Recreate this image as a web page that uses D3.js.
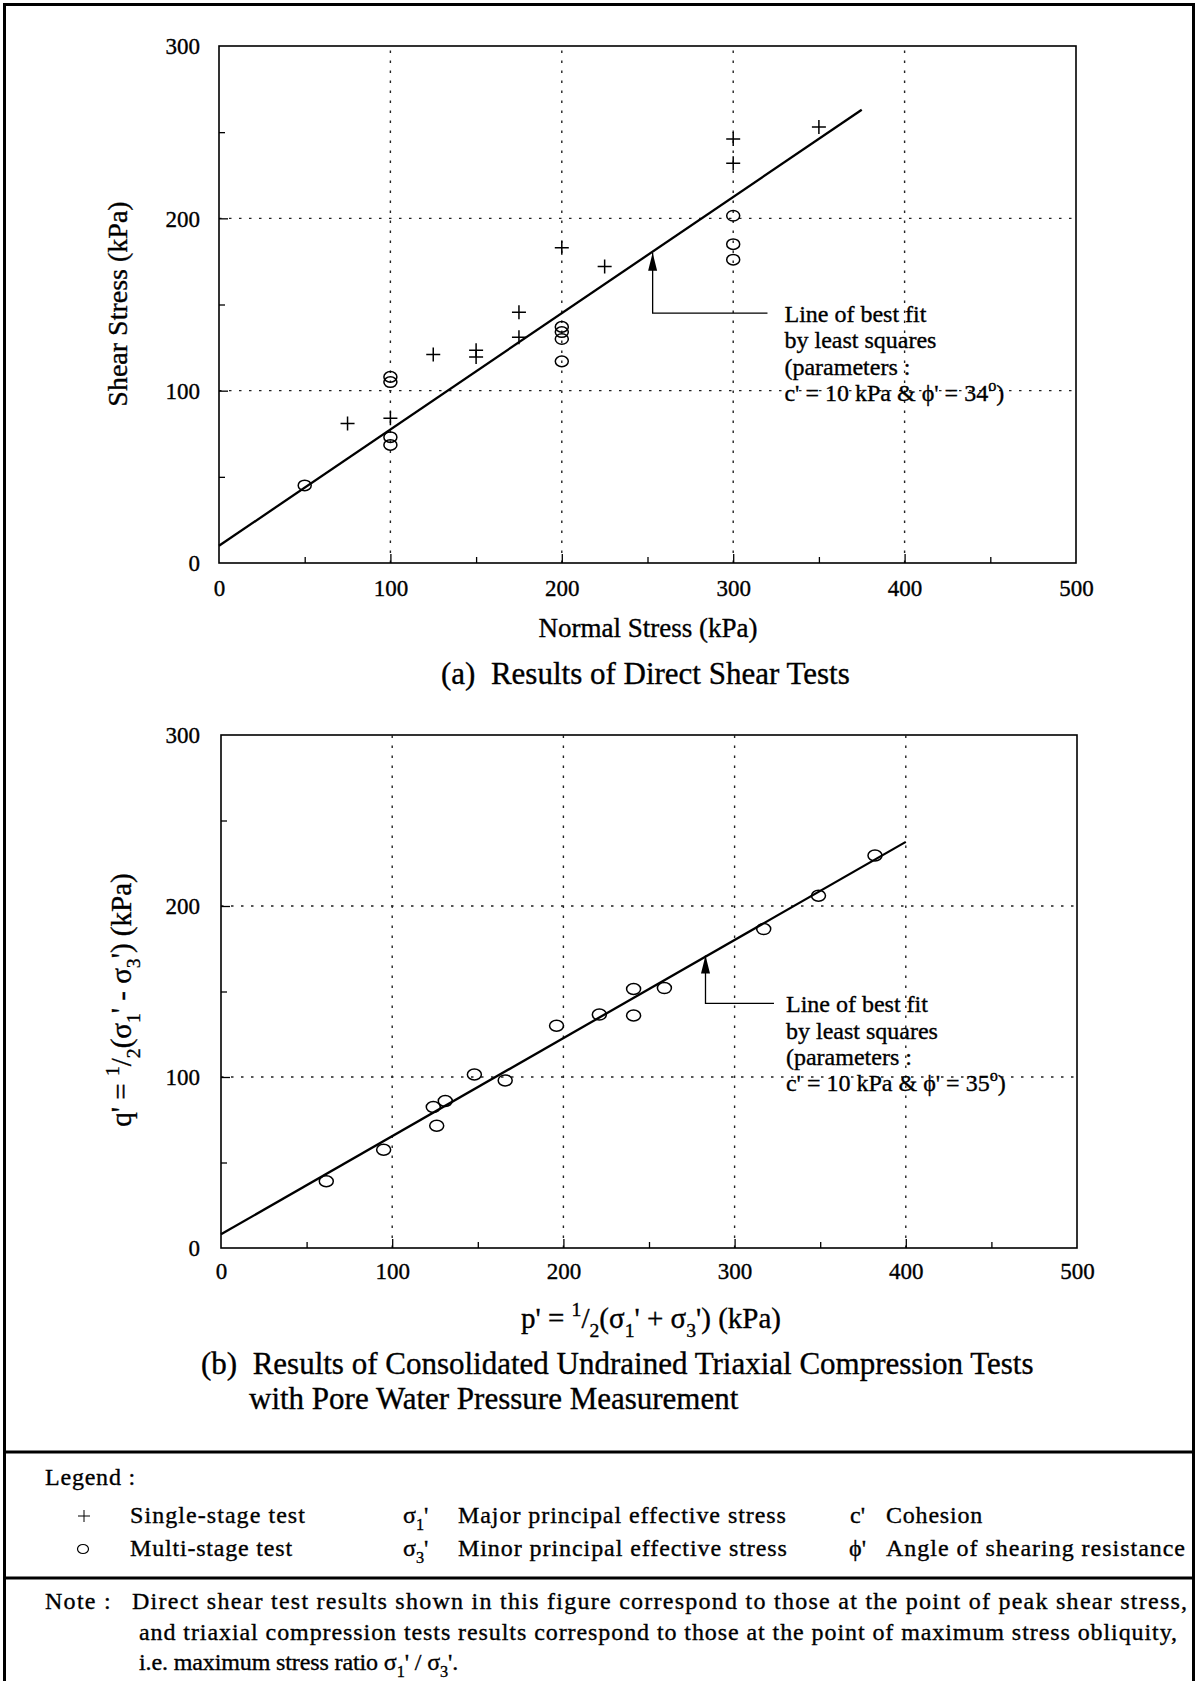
<!DOCTYPE html>
<html><head><meta charset="utf-8">
<script src="https://cdn.jsdelivr.net/npm/d3@7"></script>
<style>body{margin:0;background:#fff}svg{display:block}text{stroke:#000;stroke-width:0.35px}</style>
</head><body><svg id="c" width="1198" height="1681"></svg>
<script>
// ---------- data ----------
const xTicks = [0, 100, 200, 300, 400, 500];
const yTicks = [0, 100, 200, 300];
const minorTicks = [50, 150, 250, 350, 450];
const gridX = [100, 200, 300, 400];
const gridY = [100, 200];

// (a) direct shear tests
const shearSingleX = [75, 100, 125, 150, 150, 175, 175, 200, 225, 300, 300, 350];
const shearSingleY = [81, 84, 121, 123.5, 119.5, 145.5, 131, 183, 172, 246, 232, 253];
const shearMultiX = [50, 100, 100, 100, 100, 200, 200, 200, 200, 300, 300, 300];
const shearMultiY = [45, 108, 105, 73, 68.5, 137, 134, 130, 117, 201.5, 185, 176];
const fitAX = [0, 375];
const fitAY = [10, 263];
const arrowAX = [253, 253, 320];
const arrowAY = [180, 145, 145];
const noteA = ["Line of best fit", "by least squares", "(parameters :", "c' = 10 kPa & \u03d5' = 34"];

// (b) triaxial tests
const triaxP = [61.5, 95, 124, 126, 131, 148, 166, 196, 221, 241, 241, 259, 317, 349, 382];
const triaxQ = [39, 57.5, 82.5, 71.5, 86, 101.5, 98, 130, 136.5, 151.5, 136, 152, 186.5, 206, 229.5];
const fitBX = [0, 400];
const fitBY = [8, 237.5];
const arrowBX = [283, 283, 323];
const arrowBY = [171, 143, 143];
const noteB = ["Line of best fit", "by least squares", "(parameters :", "c' = 10 kPa & \u03d5' = 35"];

// ---------- setup ----------
const FONT = "'Liberation Serif','Times New Roman',Times,serif";
const svg = d3.select("#c").attr("font-family", FONT);

// outer frame
svg.append("path").attr("d", "M4.5,1690 V4.5 H1193.5 V1690").attr("fill", "none").attr("stroke", "#000").attr("stroke-width", 3);
svg.append("line").attr("x1", 3).attr("x2", 1195).attr("y1", 1452).attr("y2", 1452).attr("stroke", "#000").attr("stroke-width", 3);
svg.append("line").attr("x1", 3).attr("x2", 1195).attr("y1", 1578).attr("y2", 1578).attr("stroke", "#000").attr("stroke-width", 3);

function rich(textSel, parts, size) {
  let off = 0;
  parts.forEach(([s, m]) => {
    const target = m === "sub" ? size * 0.3 : m === "sup" ? -size * 0.42 : 0;
    const t = textSel.append("tspan").text(s).attr("dy", target - off);
    if (m) t.attr("font-size", size * 0.68);
    off = target;
  });
  return textSel;
}
function fitW(sel, w) {
  const n = sel.text().length;
  const cur = sel.node().getComputedTextLength();
  sel.attr("letter-spacing", ((w - cur) / n).toFixed(2));
}

function panel(cfg) {
  const x = d3.scaleLinear().domain([0, 500]).range([cfg.left, cfg.right]);
  const y = d3.scaleLinear().domain([0, 300]).range([cfg.bottom, cfg.top]);
  const g = svg.append("g");

  // grid
  g.selectAll(".gx").data(gridX).join("line")
    .attr("x1", d => x(d)).attr("x2", d => x(d)).attr("y1", cfg.bottom).attr("y2", cfg.top)
    .attr("stroke", "#222").attr("stroke-width", 1.4).attr("stroke-dasharray", "2.5,7.5");
  g.selectAll(".gy").data(gridY).join("line")
    .attr("y1", d => y(d)).attr("y2", d => y(d)).attr("x1", cfg.left).attr("x2", cfg.right)
    .attr("stroke", "#222").attr("stroke-width", 1.4).attr("stroke-dasharray", "2.5,7.5");

  // inward ticks
  const tickStyle = s => s.call(a => a.select(".domain").remove()).selectAll("line").attr("stroke", "#000").attr("stroke-width", 1.3);
  g.append("g").attr("transform", `translate(0,${cfg.bottom})`)
    .call(d3.axisBottom(x).tickValues(gridX).tickSize(-9).tickFormat("")).call(tickStyle);
  g.append("g").attr("transform", `translate(0,${cfg.bottom})`)
    .call(d3.axisBottom(x).tickValues(minorTicks).tickSize(-6).tickFormat("")).call(tickStyle);
  g.append("g").attr("transform", `translate(${cfg.left},0)`)
    .call(d3.axisLeft(y).tickValues(gridY).tickSize(-9).tickFormat("")).call(tickStyle);
  g.append("g").attr("transform", `translate(${cfg.left},0)`)
    .call(d3.axisLeft(y).tickValues(minorTicks.filter(v => v < 300)).tickSize(-6).tickFormat("")).call(tickStyle);

  // tick labels
  const xa = g.append("g").attr("transform", `translate(0,${cfg.bottom})`)
    .call(d3.axisBottom(x).tickValues(xTicks).tickSize(0).tickPadding(cfg.xPad).tickFormat(d3.format("d")));
  xa.select(".domain").remove();
  xa.attr("font-family", FONT).attr("font-size", 23).selectAll("text").attr("fill", "#000");
  const ya = g.append("g").attr("transform", `translate(${cfg.left},0)`)
    .call(d3.axisLeft(y).tickValues(yTicks).tickSize(0).tickPadding(cfg.left - 200).tickFormat(d3.format("d")));
  ya.select(".domain").remove();
  ya.attr("font-family", FONT).attr("font-size", 23).selectAll("text").attr("fill", "#000").attr("dy", "0.34em");

  // frame
  g.append("rect").attr("x", cfg.left).attr("y", cfg.top)
    .attr("width", cfg.right - cfg.left).attr("height", cfg.bottom - cfg.top)
    .attr("fill", "none").attr("stroke", "#000").attr("stroke-width", 1.6);

  // fit line
  g.append("path").datum(d3.zip(cfg.fitX, cfg.fitY))
    .attr("d", d3.line().x(d => x(d[0])).y(d => y(d[1])))
    .attr("fill", "none").attr("stroke", "#000").attr("stroke-width", 2.3);

  // arrow
  g.append("path").datum(d3.zip(cfg.arrX, cfg.arrY).reverse())
    .attr("d", d3.line().x(d => x(d[0])).y(d => y(d[1])))
    .attr("fill", "none").attr("stroke", "#000").attr("stroke-width", 1.3);
  const ax = x(cfg.arrX[0]), ay = y(cfg.arrY[0]);
  g.append("path").attr("d", `M${ax},${ay} L${ax - 4.5},${ay + 18} L${ax + 4.5},${ay + 18} Z`).attr("fill", "#000");

  // annotation text
  const tx = x(cfg.arrX[2]) + cfg.textGap;
  const ty0 = y(cfg.arrY[1]) + 9;
  cfg.note.forEach((s, i) => {
    const t = g.append("text").attr("x", tx).attr("y", ty0 + i * 26.3).attr("font-size", 24).attr("fill", "#000");
    if (i === 3) rich(t, [[s, ""], ["o", "sup"], [")", ""]], 24);
    else t.text(s);
  });

  return { g, x, y };
}

// ---------- panel (a) ----------
const A = panel({ left: 219, right: 1076, top: 46, bottom: 563, xPad: 17, textGap: 17,
  fitX: fitAX, fitY: fitAY, arrX: arrowAX, arrY: arrowAY, note: noteA });

const plusPath = "M-7,0H7M0,-7V7";
A.g.selectAll(".plus").data(d3.zip(shearSingleX, shearSingleY)).join("path")
  .attr("transform", d => `translate(${A.x(d[0])},${A.y(d[1])})`)
  .attr("d", plusPath).attr("stroke", "#000").attr("stroke-width", 1.5).attr("fill", "none");
A.g.selectAll(".circ").data(d3.zip(shearMultiX, shearMultiY)).join("ellipse")
  .attr("cx", d => A.x(d[0])).attr("cy", d => A.y(d[1])).attr("rx", 6.5).attr("ry", 5.3)
  .attr("stroke", "#000").attr("stroke-width", 1.5).attr("fill", "none");

svg.append("text").attr("transform", "translate(127,304) rotate(-90)").attr("text-anchor", "middle")
  .attr("font-size", 28).text("Shear Stress (kPa)");
svg.append("text").attr("x", 648).attr("y", 637).attr("text-anchor", "middle")
  .attr("font-size", 27).text("Normal Stress (kPa)");
svg.append("text").attr("x", 441).attr("y", 684).attr("font-size", 31).attr("xml:space", "preserve")
  .text("(a)  Results of Direct Shear Tests");

// ---------- panel (b) ----------
const B = panel({ left: 221, right: 1077, top: 735, bottom: 1248, xPad: 15, textGap: 12,
  fitX: fitBX, fitY: fitBY, arrX: arrowBX, arrY: arrowBY, note: noteB });
B.g.selectAll(".circ").data(d3.zip(triaxP, triaxQ)).join("ellipse")
  .attr("cx", d => B.x(d[0])).attr("cy", d => B.y(d[1])).attr("rx", 7).attr("ry", 5.5)
  .attr("stroke", "#000").attr("stroke-width", 1.5).attr("fill", "none");

rich(svg.append("text").attr("transform", "translate(131,1000) rotate(-90)").attr("text-anchor", "middle").attr("font-size", 29),
  [["q' = ", ""], ["1", "sup"], ["/", ""], ["2", "sub"], ["(\u03c3", ""], ["1", "sub"], ["' - \u03c3", ""], ["3", "sub"], ["') (kPa)", ""]], 29);
rich(svg.append("text").attr("x", 651).attr("y", 1328).attr("text-anchor", "middle").attr("font-size", 29),
  [["p' = ", ""], ["1", "sup"], ["/", ""], ["2", "sub"], ["(\u03c3", ""], ["1", "sub"], ["' + \u03c3", ""], ["3", "sub"], ["') (kPa)", ""]], 29);
svg.append("text").attr("x", 201).attr("y", 1374).attr("font-size", 31).attr("xml:space", "preserve")
  .text("(b)  Results of Consolidated Undrained Triaxial Compression Tests");
svg.append("text").attr("x", 249).attr("y", 1409).attr("font-size", 31)
  .text("with Pore Water Pressure Measurement");

// ---------- legend ----------
const LFS = 24;
const leg = svg.append("g").attr("font-size", LFS).attr("fill", "#000");
fitW(leg.append("text").attr("x", 45).attr("y", 1485).text("Legend :"), 91);
leg.append("path").attr("d", "M78,1516H90M84,1510V1522").attr("stroke", "#000").attr("stroke-width", 1);
leg.append("ellipse").attr("cx", 83).attr("cy", 1549).attr("rx", 5.5).attr("ry", 4.5).attr("fill", "none").attr("stroke", "#000").attr("stroke-width", 1.2);
fitW(leg.append("text").attr("x", 130).attr("y", 1523).text("Single-stage test"), 176);
fitW(leg.append("text").attr("x", 130).attr("y", 1556).text("Multi-stage test"), 163);
rich(leg.append("text").attr("x", 403).attr("y", 1523), [["\u03c3", ""], ["1", "sub"], ["'", ""]], LFS);
rich(leg.append("text").attr("x", 403).attr("y", 1556), [["\u03c3", ""], ["3", "sub"], ["'", ""]], LFS);
fitW(leg.append("text").attr("x", 458).attr("y", 1523).text("Major principal effective stress"), 329);
fitW(leg.append("text").attr("x", 458).attr("y", 1556).text("Minor principal effective stress"), 330);
leg.append("text").attr("x", 850).attr("y", 1523).text("c'");
leg.append("text").attr("x", 849).attr("y", 1556).text("\u03d5'");
fitW(leg.append("text").attr("x", 886).attr("y", 1523).text("Cohesion"), 97);
fitW(leg.append("text").attr("x", 886).attr("y", 1556).text("Angle of shearing resistance"), 300);

// ---------- note ----------
fitW(leg.append("text").attr("x", 45).attr("y", 1609).text("Note :"), 67);
fitW(leg.append("text").attr("x", 132).attr("y", 1609)
  .text("Direct shear test results shown in this figure correspond to those at the point of peak shear stress,"), 1056);
fitW(leg.append("text").attr("x", 139).attr("y", 1640)
  .text("and triaxial compression tests results correspond to those at the point of maximum stress obliquity,"), 1039);
const n3 = rich(leg.append("text").attr("x", 139).attr("y", 1670),
  [["i.e. maximum stress ratio \u03c3", ""], ["1", "sub"], ["' / \u03c3", ""], ["3", "sub"], ["'.", ""]], LFS);
fitW(n3, 319);
</script>
</body></html>
